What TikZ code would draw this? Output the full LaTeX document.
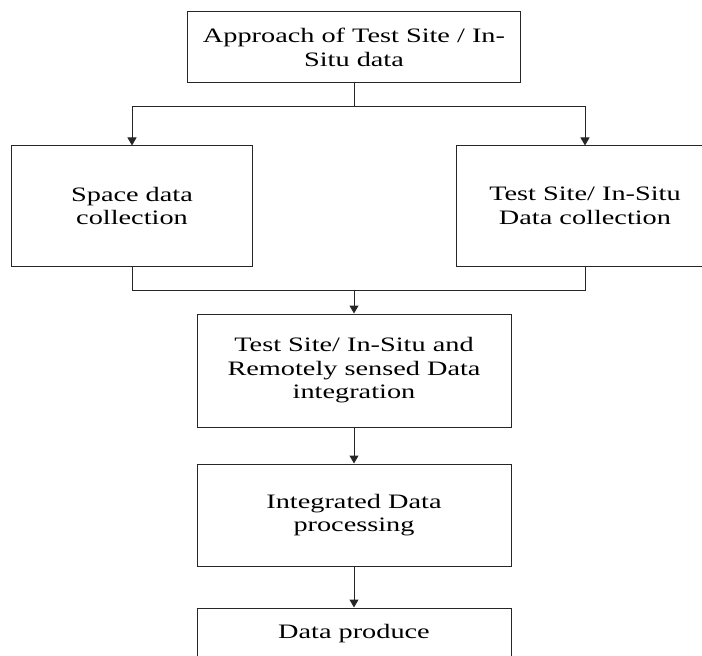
\documentclass[tikz,border=0pt]{standalone}
\usepackage{fontspec}
\setmainfont{Liberation Serif}[FakeStretch=1.38]
\usetikzlibrary{arrows.meta}
\begin{document}
\begin{tikzpicture}[x=1bp,y=-1bp,
  box/.style={draw=black!85, line width=1bp, rectangle, align=center, inner sep=0pt,
    font=\fontsize{20.5bp}{23.5bp}\selectfont},
  conn/.style={draw=black!85, line width=1bp},
  arr/.style={conn, -{Triangle[width=9bp,length=8bp]}}]
\useasboundingbox (0,0) rectangle (702,656);
\begin{scope}
\clip (0,0) rectangle (702,656);
\node[box, minimum width=333bp, minimum height=71bp] (top) at (354,47.5) {Approach of Test Site / In-\\Situ data};
\node[box, minimum width=240bp, minimum height=120bp] (left) at (132,206) {Space data\\collection};
\node[box, minimum width=258bp, minimum height=120bp] (right) at (585,206) {Test Site/ In-Situ\\Data collection};
\node[box, minimum width=314bp, minimum height=113bp] (mid) at (354,370.5) {Test Site/ In-Situ and\\Remotely sensed Data\\integration};
\node[box, minimum width=314bp, minimum height=102bp] (integ) at (354,515) {Integrated Data\\processing};
\node[box, minimum width=314bp, minimum height=51bp] (prod) at (354,633.5) {Data produce};
\coordinate (j1) at (354,107);
\coordinate (j2) at (354,290);
\draw[conn] (top.south) -- (j1);
\draw[arr] (j1) -| (left.north);
\draw[arr] (j1) -| (right.north);
\draw[conn] (left.south) |- (j2);
\draw[conn] (right.south) |- (j2);
\draw[arr] (j2) -- (mid.north);
\draw[arr] (mid.south) -- (integ.north);
\draw[arr] (integ.south) -- (prod.north);
\end{scope}
\end{tikzpicture}
\end{document}
